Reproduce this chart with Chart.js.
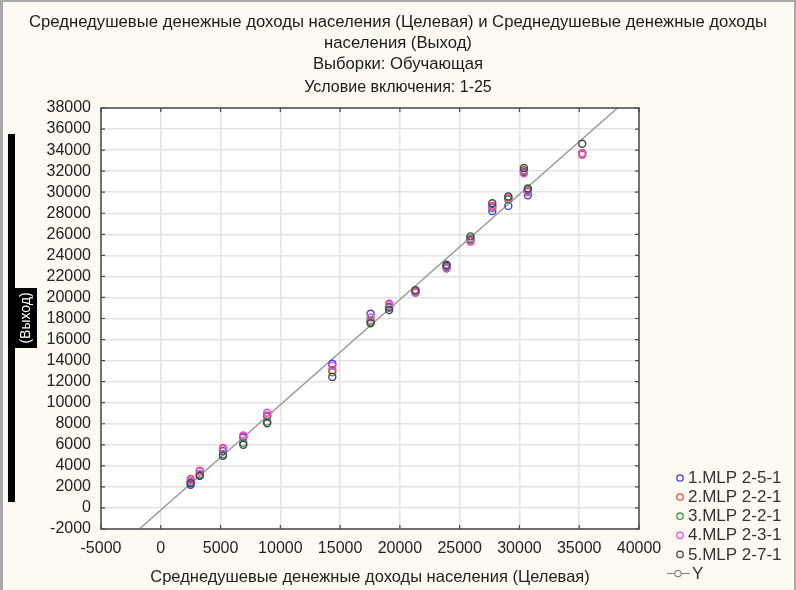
<!DOCTYPE html>
<html><head><meta charset="utf-8">
<script src="https://cdn.jsdelivr.net/npm/chart.js@4.4.0/dist/chart.umd.min.js"></script>
<style>html,body{margin:0;padding:0;background:#fdfbf1;}#wrap{position:relative;width:796px;height:590px;}</style>
</head><body><div id="wrap"><canvas id="c" width="796" height="590"></canvas></div>
<script>
const titleLines = ['Среднедушевые денежные доходы населения (Целевая) и Среднедушевые денежные доходы', 'населения (Выход)', 'Выборки: Обучающая'];
const subtitleText = 'Условие включения: 1-25';
const xTitle = 'Среднедушевые денежные доходы населения (Целевая)';
const yTitle = '(Выход)';
const seriesNames = ['1.MLP 2-5-1', '2.MLP 2-2-1', '3.MLP 2-2-1', '4.MLP 2-3-1', '5.MLP 2-7-1'];
const lineName = 'Y';
const target = [2500, 3260, 5200, 6900, 8900, 14350, 17550, 19100, 21300, 23900, 25900, 27730, 29070, 30370, 30700, 35250];
const mlp1 = [2200, 3100, 5400, 6700, 8700, 13700, 18450, 19100, 20500, 23000, 25500, 28200, 28700, 31900, 29700, 33700];
const mlp2 = [2750, 3550, 5700, 6800, 8800, 13100, 17800, 19400, 20500, 22800, 25400, 28700, 29400, 32000, 30100, 33550];
const mlp3 = [2450, 3200, 5100, 6200, 8200, 12900, 17700, 19000, 20600, 22900, 25600, 28500, 29300, 32100, 30200, 33700];
const mlp4 = [2600, 3450, 5600, 6900, 9050, 13500, 18100, 19300, 20450, 22750, 25300, 28600, 29550, 31800, 30000, 33700];
const mlp5 = [2350, 3050, 4950, 6000, 8050, 12450, 17550, 18800, 20700, 23100, 25800, 28950, 29600, 32300, 30350, 34600];
const lineX = [-1800, 38200];
const lineY = [-2000, 38000];

const FONT = "'Liberation Sans', Arial, sans-serif";
const colors = ['#3c3ce6', '#ec4a4a', '#3f9a4a', '#ec46ec', '#444444'];
const outputs = [mlp1, mlp2, mlp3, mlp4, mlp5];

const datasets = outputs.map((arr, i) => ({
  type: 'scatter',
  label: seriesNames[i],
  data: target.map((x, k) => ({x: x, y: arr[k]})),
  borderColor: colors[i],
  backgroundColor: 'rgba(0,0,0,0)',
  pointRadius: 3.5,
  pointBorderWidth: 1.4,
  pointHoverRadius: 3.5,
  order: 4 - i
}));
datasets.push({
  type: 'line',
  label: lineName,
  data: lineX.map((x, k) => ({x: x, y: lineY[k]})),
  borderColor: '#9a9a9a',
  borderWidth: 1.5,
  pointRadius: 0,
  fill: false,
  order: 10
});

const decor = {
  id: 'decor',
  beforeDraw(chart) {
    const {ctx, chartArea: a} = chart;
    ctx.save();
    ctx.fillStyle = '#fdfbf1';
    ctx.fillRect(0, 0, chart.width, chart.height);
    ctx.fillStyle = '#ffffff';
    ctx.fillRect(a.left, a.top, a.right - a.left, a.bottom - a.top);
    ctx.restore();
  },
  afterDraw(chart) {
    const {ctx, chartArea: a} = chart;
    const xs = chart.scales.x, ys = chart.scales.y;
    ctx.save();
    ctx.strokeStyle = '#4a4a4a';
    ctx.lineWidth = 1.5;
    ctx.strokeRect(a.left, a.top, a.right - a.left, a.bottom - a.top);
    ctx.lineWidth = 1.2;
    ctx.beginPath();
    xs.ticks.forEach(t => {
      const px = xs.getPixelForValue(t.value);
      ctx.moveTo(px, a.bottom); ctx.lineTo(px, a.bottom - 4);
      ctx.moveTo(px, a.top); ctx.lineTo(px, a.top + 4);
    });
    ys.ticks.forEach(t => {
      const py = ys.getPixelForValue(t.value);
      ctx.moveTo(a.left, py); ctx.lineTo(a.left + 4, py);
      ctx.moveTo(a.right, py); ctx.lineTo(a.right - 4, py);
    });
    ctx.stroke();
    ctx.fillStyle = '#a8a8a8';
    ctx.fillRect(0, 0, 3, chart.height);
    ctx.fillRect(0, 0, chart.width, 2);
    ctx.fillRect(chart.width - 2, 0, 2, chart.height);
    ctx.fillStyle = '#000000';
    ctx.fillRect(8, 134, 7, 368);
    ctx.fillRect(8, 288, 29, 60);
    ctx.translate(26, 318);
    ctx.rotate(-Math.PI / 2);
    ctx.fillStyle = '#ffffff';
    ctx.font = '14px ' + FONT;
    ctx.textAlign = 'center';
    ctx.textBaseline = 'middle';
    ctx.fillText(yTitle, 0, 0);
    ctx.restore();
    ctx.save();
    ctx.font = '17px ' + FONT;
    ctx.textAlign = 'left';
    ctx.textBaseline = 'middle';
    const rowY = k => 478 + k * 19.1;
    seriesNames.forEach((name, i) => {
      const y = rowY(i);
      ctx.strokeStyle = colors[i];
      ctx.lineWidth = 1.3;
      ctx.beginPath(); ctx.arc(680, y, 3.2, 0, Math.PI * 2); ctx.stroke();
      ctx.fillStyle = '#333333';
      ctx.fillText(name, 688, y + 0.5);
    });
    const y = rowY(5);
    ctx.strokeStyle = '#888888';
    ctx.lineWidth = 1.2;
    ctx.beginPath(); ctx.moveTo(667, y); ctx.lineTo(690, y); ctx.stroke();
    ctx.fillStyle = '#fdfbf1';
    ctx.beginPath(); ctx.arc(678, y, 3.2, 0, Math.PI * 2); ctx.fill(); ctx.stroke();
    ctx.fillStyle = '#333333';
    ctx.fillText(lineName, 692, y + 0.5);
    ctx.restore();
  }
};

Chart.defaults.color = '#222222';
Chart.defaults.font.family = FONT;
const plain = v => String(v);

new Chart(document.getElementById('c'), {
  data: {datasets: datasets},
  options: {
    responsive: false,
    animation: false,
    events: [],
    layout: {padding: 0},
    plugins: {
      legend: {display: false},
      tooltip: {enabled: false},
      title: {display: true, text: titleLines, color: '#1a1a1a', font: {size: 16.7, lineHeight: '21px', weight: 'normal'}, padding: {top: 12, bottom: 3}},
      subtitle: {display: true, text: subtitleText, color: '#1a1a1a', font: {size: 16, lineHeight: '20px'}, padding: {top: 0, bottom: 10}}
    },
    scales: {
      x: {
        type: 'linear', position: 'bottom', min: -5000, max: 40000,
        afterFit(s) { s.height = 61; },
        ticks: {stepSize: 5000, padding: 10, font: {size: 16}, color: '#222', maxRotation: 0, autoSkip: false, callback: plain},
        grid: {color: '#e3e3e3', lineWidth: 1.5, drawTicks: false},
        border: {display: false},
        title: {display: true, text: xTitle, font: {size: 16.5}, color: '#222', padding: {top: 6, bottom: 3}}
      },
      y: {
        type: 'linear', min: -2000, max: 38000,
        afterFit(s) { s.width = 101; },
        ticks: {stepSize: 2000, padding: 10, font: {size: 16}, color: '#222', autoSkip: false, callback: plain},
        grid: {color: '#e3e3e3', lineWidth: 1.5, drawTicks: false},
        border: {display: false}
      },
      yr: {
        type: 'linear', position: 'right', min: -2000, max: 38000,
        afterFit(s) { s.width = 157; },
        ticks: {display: false},
        grid: {display: false, drawTicks: false},
        border: {display: false}
      }
    }
  },
  plugins: [decor]
});
</script></body></html>
